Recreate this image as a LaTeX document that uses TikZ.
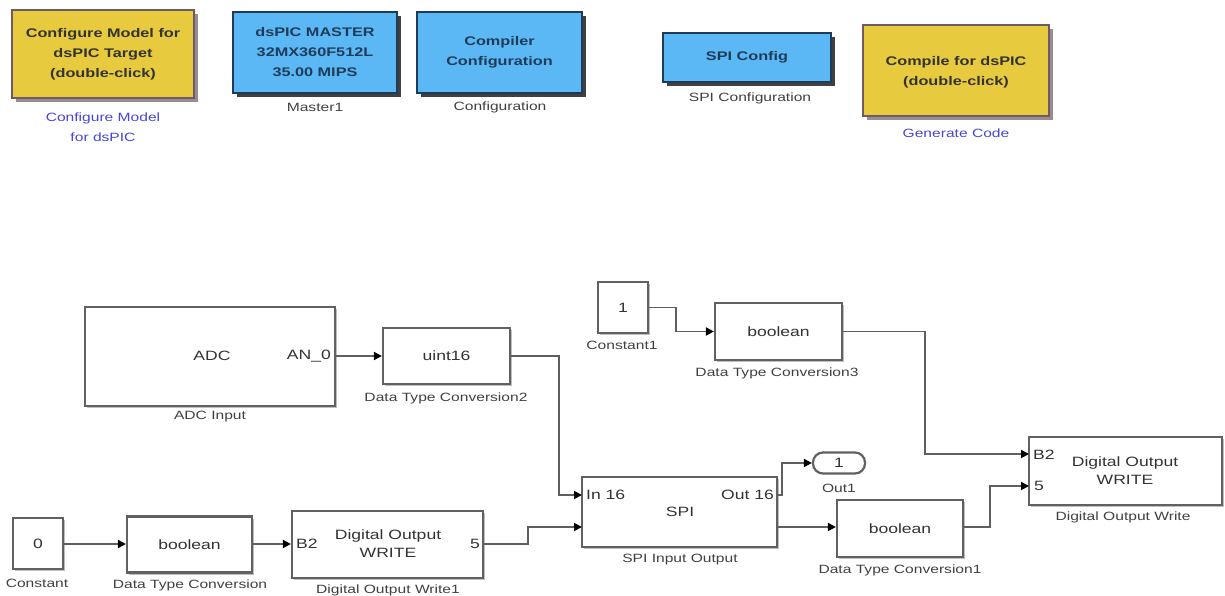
\documentclass[tikz,border=0pt]{standalone}
\usepackage{fontspec}
\newfontfamily\simfont[FakeStretch=1.3]{Liberation Sans}
\usetikzlibrary{arrows.meta,shadows,calc}
\definecolor{ylw}{RGB}{232,202,62}
\definecolor{ylwb}{RGB}{110,90,100}
\definecolor{blu}{RGB}{92,184,245}
\definecolor{blub}{RGB}{30,60,90}
\definecolor{lblue}{RGB}{70,70,215}
\definecolor{wirec}{RGB}{95,95,95}
\tikzset{
  lab/.style={font=\simfont\fontsize{12}{14}\selectfont, text=black!75, inner sep=0pt, align=center},
  blab/.style={lab, text=lblue},
  btxt/.style={font=\simfont\fontsize{13.5}{18}\selectfont, text=black!80, inner sep=0pt, align=center},
  ttxt/.style={font=\simfont\bfseries\fontsize{12.5}{20}\selectfont, inner sep=0pt, align=center},
  blk/.style={draw=black!62, fill=white, line width=2.2pt, inner sep=0pt,
    drop shadow={shadow xshift=2pt, shadow yshift=-2pt, fill=black!25, opacity=1}},
  yblk/.style={draw=ylwb, fill=ylw, line width=2.2pt, inner sep=0pt,
    drop shadow={shadow xshift=4pt, shadow yshift=-4pt, fill=ylwb!70, opacity=1}},
  bblk/.style={draw=blub, fill=blu, line width=2.6pt, inner sep=0pt,
    drop shadow={shadow xshift=4pt, shadow yshift=-4pt, fill=black!75, opacity=1}},
  wire/.style={draw=wirec, line width=1.8pt, -{Triangle[length=8pt,width=8pt,fill=black,color=black]}},
}
\begin{document}
\begin{tikzpicture}[x=1pt,y=-1pt]
\useasboundingbox (0,0) rectangle (1225,596);
% ---------- top row ----------
\node[yblk, minimum width=182pt, minimum height=88pt] (cfg) at (103,54) {};
\node[ttxt, text=black!80] (cfgt) at (cfg.center) {Configure Model for\\dsPIC Target\\(double-click)};
\node[blab, font=\simfont\fontsize{12}{20}\selectfont] (cfgl) at (103,127) {Configure Model\\for dsPIC};

\node[bblk, minimum width=164pt, minimum height=81pt] (mst) at (315,52.5) {};
\node[ttxt, text=blub] (mstt) at (mst.center) {dsPIC MASTER\\32MX360F512L\\35.00 MIPS};
\node[lab] (mstl) at (315,107) {Master1};

\node[bblk, minimum width=165pt, minimum height=81pt] (cmp) at (499.5,52.5) {};
\node[ttxt, text=blub] (cmpt) at (cmp.center) {Compiler\\Configuration};
\node[lab] (cmpl) at (500,107) {Configuration};

\node[bblk, minimum width=168pt, minimum height=49pt] (spc) at (747,57.5) {};
\node[ttxt, text=blub] (spct) at (spc.center) {SPI Config};
\node[lab] (spcl) at (750,98) {SPI Configuration};

\node[yblk, minimum width=186pt, minimum height=91pt] (gen) at (956,70.5) {};
\node[ttxt, text=black!80] (gent) at (956,72) {Compile for dsPIC\\(double-click)};
\node[blab] (genl) at (956,133) {Generate Code};

% ---------- bottom blocks ----------
\node[blk, minimum width=250pt, minimum height=99pt] (adc) at (210,356.5) {};
\node[btxt] (adct) at (212,356) {ADC};
\node[btxt, anchor=east] (adcp) at (331,356) {AN\_0};
\node[lab] (adcl) at (210,417) {ADC Input};

\node[blk, minimum width=127pt, minimum height=56pt] (u16) at (446.5,356) {};
\node[btxt] (u16t) at (u16.center) {uint16};
\node[lab] (u16l) at (446,398) {Data Type Conversion2};

\node[blk, minimum width=50pt, minimum height=51pt] (c1) at (623,307.5) {};
\node[btxt] (c1t) at (c1.center) {1};
\node[lab] (c1l) at (622,345) {Constant1};

\node[blk, minimum width=127pt, minimum height=57pt] (b3) at (778.5,331.5) {};
\node[btxt] (b3t) at (b3.center) {boolean};
\node[lab] (b3l) at (777,373) {Data Type Conversion3};

\node[blk, minimum width=193pt, minimum height=68pt] (dow) at (1125.5,471) {};
\node[btxt] (dowt) at (1125,471) {Digital Output\\WRITE};
\node[btxt, anchor=west] (dowp1) at (1033,455) {B2};
\node[btxt, anchor=west] (dowp2) at (1034,486) {5};
\node[lab] (dowl) at (1123,517) {Digital Output Write};

\node[blk, minimum width=195pt, minimum height=70pt] (spi) at (679.5,512) {};
\node[btxt, anchor=west] (spip1) at (586,495) {In 16};
\node[btxt, anchor=east] (spip3) at (774,495) {Out 16};
\node[btxt] (spit) at (680,512) {SPI};
\node[lab] (spil) at (680,560) {SPI Input Output};

\node[draw=black!62, fill=white, line width=2.2pt, rounded corners=10pt, minimum width=52pt, minimum height=21pt, inner sep=0pt] (out1) at (839,463) {};
\node[btxt] (out1t) at (out1.center) {1};
\node[lab] (out1l) at (839,488) {Out1};

\node[blk, minimum width=126pt, minimum height=57pt] (b1) at (900,528.5) {};
\node[btxt] (b1t) at (b1.center) {boolean};
\node[lab] (b1l) at (900,570) {Data Type Conversion1};

\node[blk, minimum width=50pt, minimum height=51pt] (c0) at (38,543.5) {};
\node[btxt] (c0t) at (c0.center) {0};
\node[lab] (c0l) at (37,583) {Constant};

\node[blk, minimum width=125pt, minimum height=56pt] (b0) at (189.5,544.5) {};
\node[btxt] (b0t) at (b0.center) {boolean};
\node[lab] (b0l) at (190,585) {Data Type Conversion};

\node[blk, minimum width=191pt, minimum height=67pt] (dow1) at (387.5,544.5) {};
\node[btxt] (dow1t) at (388,544) {Digital Output\\WRITE};
\node[btxt, anchor=west] (dow1p1) at (296,544) {B2};
\node[btxt, anchor=east] (dow1p2) at (480,544) {5};
\node[lab] (dow1l) at (388,590) {Digital Output Write1};

% ports
\coordinate (spiin1) at (582,495);
\coordinate (spiin2) at (582,527);
\coordinate (spiout1) at (777,495);
\coordinate (spiout2) at (777,527);
\coordinate (dowin1) at (1029,454);
\coordinate (dowin2) at (1029,486);

% ---------- connectors ----------
\draw[wire] (adc.east |- u16.west) -- (u16.west);
\draw[wire] (u16.east) -| ([xshift=-23pt]spiin1) -- (spiin1);
\draw[wire] (c1.east) -- ++(27,0) |- (b3.west);
\draw[wire] (b3.east) -| ([xshift=-104pt]dowin1) -- (dowin1);
\draw[wire] (spiout1) -- ++(5,0) |- (out1.west);
\draw[wire] (spiout2) -- (spiout2 -| b1.west);
\draw[wire] (b1.east |- spiout2) -| ([xshift=-39pt]dowin2) -- (dowin2);
\draw[wire] (c0.east |- 0,544) -- (b0.west |- 0,544);
\draw[wire] (b0.east |- 0,544) -- (dow1.west |- 0,544);
\draw[wire] (dow1.east |- 0,544) -- ++(44,0) |- (spiin2);
\end{tikzpicture}
\end{document}
